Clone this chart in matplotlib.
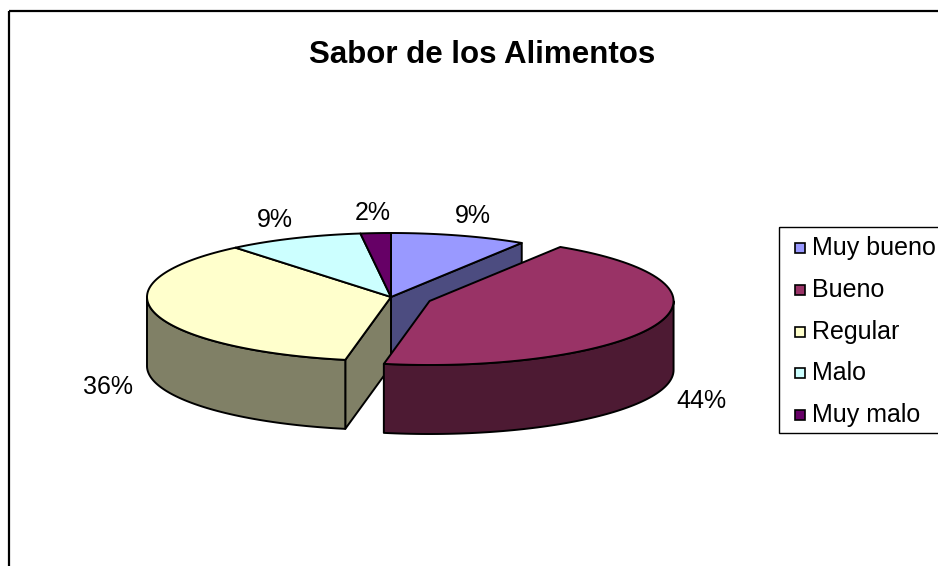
"""Sabor de los Alimentos — pastel 3D estilo Excel, dibujado con parches 2D"""

import numpy as np
import matplotlib
matplotlib.use('Agg')
import matplotlib.pyplot as plt
from matplotlib.patches import Polygon, Rectangle

plt.rcParams['font.family'] = ['Liberation Sans', 'DejaVu Sans']

TITLE = 'Sabor de los Alimentos'
CATEGORIES = ['Muy bueno', 'Bueno', 'Regular', 'Malo', 'Muy malo']
VALUES = [9, 44, 36, 9, 2]
EXPLODED = [False, True, False, False, False]

TOP_COLORS = ['#9999FF', '#993366', '#FFFFCC', '#CCFFFF', '#660066']
SIDE_COLORS = ['#4C4C80', '#4D1A33', '#808066', '#668080', '#330033']

# geometry in pixels (figure is 938 x 566)
W, H = 938, 566
CX, CY = 391, 297
RX, RY = 244, 64
DEPTH = 69
EXPLODE_FRAC = 0.17
LBL_RX, LBL_RY = 292, 84

EDGE = dict(edgecolor='black', linewidth=1.4, joinstyle='round')


def arc(cx, cy, t1, t2, dz=0, n=80):
    t = np.radians(np.linspace(t1, t2, n))
    return np.column_stack([cx + RX * np.cos(t), cy - RY * np.sin(t) + dz])


def slice_angles(values):
    total = float(sum(values))
    out = []
    start = 90.0
    for v in values:
        end = start - v / total * 360.0
        out.append((start, end))
        start = end
    return out


def centre(i, angles):
    if not EXPLODED[i]:
        return CX, CY
    a0, a1 = angles[i]
    mid = np.radians((a0 + a1) / 2)
    return CX + RX * EXPLODE_FRAC * np.cos(mid), CY - RY * EXPLODE_FRAC * np.sin(mid)


def walls(ax, i, angles):
    a0, a1 = angles[i]
    cx, cy = centre(i, angles)
    n = len(VALUES)
    prev_exp = EXPLODED[(i - 1) % n]
    next_exp = EXPLODED[(i + 1) % n]
    # cut faces
    for a, visible, neighbour in ((a0, np.cos(np.radians(a0)) < 0, prev_exp),
                                  (a1, np.cos(np.radians(a1)) > 0, next_exp)):
        if visible and (neighbour or EXPLODED[i]):
            r = np.radians(a)
            px, py = cx + RX * np.cos(r), cy - RY * np.sin(r)
            pts = [(cx, cy), (px, py), (px, py + DEPTH), (cx, cy + DEPTH)]
            ax.add_patch(Polygon(pts, closed=True, facecolor=SIDE_COLORS[i], **EDGE))
    # outer wall, front half only
    lo, hi = max(a1, -180.0), min(a0, 0.0)
    if hi > lo:
        top = arc(cx, cy, lo, hi)
        bot = arc(cx, cy, hi, lo, dz=DEPTH)
        ax.add_patch(Polygon(np.vstack([top, bot]), closed=True,
                             facecolor=SIDE_COLORS[i], **EDGE))


def top(ax, i, angles):
    a0, a1 = angles[i]
    cx, cy = centre(i, angles)
    pts = np.vstack([[cx, cy], arc(cx, cy, a1, a0)])
    ax.add_patch(Polygon(pts, closed=True, facecolor=TOP_COLORS[i], **EDGE))


def label(ax, i, angles):
    a0, a1 = angles[i]
    cx, cy = centre(i, angles)
    mid = np.radians((a0 + a1) / 2)
    x = cx + LBL_RX * np.cos(mid)
    y = cy - LBL_RY * np.sin(mid)
    if np.sin(mid) < 0:
        y += DEPTH
    pct = VALUES[i] / sum(VALUES) * 100
    ax.text(x, y, f'{pct:.0f}%', ha='center', va='center', fontsize=18)


fig = plt.figure(figsize=(W / 100, H / 100), dpi=100)
ax = fig.add_axes([0, 0, 1, 1])
ax.set_xlim(0, W)
ax.set_ylim(H, 0)
ax.axis('off')

# chart area border (runs off the right and bottom)
ax.add_patch(Rectangle((9, 11), 960, 600, fill=False, edgecolor='black',
                       linewidth=1.6, clip_on=False))

ax.text(482, 55, TITLE, ha='center', va='center', fontsize=22.5, fontweight='bold')

angles = slice_angles(VALUES)
order = [i for i in range(len(VALUES)) if not EXPLODED[i]]
for i in order:
    walls(ax, i, angles)
for i in order:
    top(ax, i, angles)
for i in range(len(VALUES)):
    if EXPLODED[i]:
        walls(ax, i, angles)
        top(ax, i, angles)
for i in range(len(VALUES)):
    label(ax, i, angles)

# legend box
ax.add_patch(Rectangle((779, 227), 200, 206, fill=False, edgecolor='black',
                       linewidth=1.0, clip_on=False))
for k, name in enumerate(CATEGORIES):
    yy = 248 + k * 41.75
    ax.add_patch(Rectangle((795, yy - 5), 10, 10, facecolor=TOP_COLORS[k],
                           edgecolor='black', linewidth=1.2))
    ax.text(812, yy, name, ha='left', va='center', fontsize=18)

fig.savefig('out.png', dpi=100)
